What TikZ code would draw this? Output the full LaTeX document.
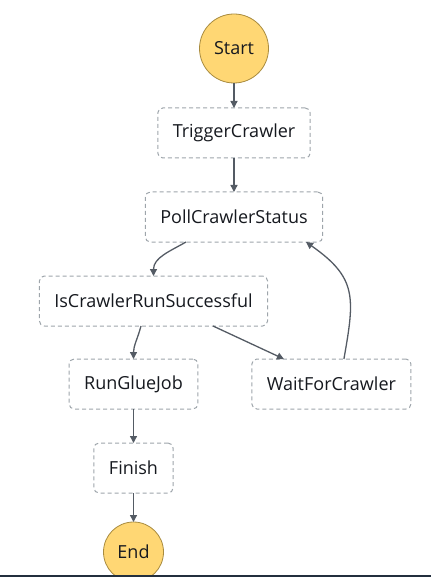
\documentclass[tikz,border=0pt]{standalone}
\usepackage{fontspec}
\setmainfont{Open Sans}
\usepackage{tikz}
\usetikzlibrary{arrows.meta,positioning}

\definecolor{edgegray}{HTML}{545B64}
\definecolor{boxgray}{HTML}{9EA5AB}
\definecolor{termyellow}{HTML}{FFD774}
\definecolor{termborder}{HTML}{A88B3F}
\definecolor{textdark}{HTML}{16191F}
\definecolor{barnavy}{HTML}{232F3E}

\begin{document}
\begin{tikzpicture}[x=1pt,y=1pt,>={Triangle[length=7pt,width=7pt]},
            flow/.style={->,draw=edgegray,line width=1.3pt},
            task node/.style={rectangle,rounded corners=5pt,draw=boxgray,dashed,
            dash pattern=on 4pt off 3pt,line width=1pt,fill=white,text=textdark,
            font=\fontsize{18pt}{21pt}\selectfont,inner xsep=15pt,minimum height=50pt,outer sep=0pt},
            terminal node/.style={circle,draw=termborder,line width=0.8pt,fill=termyellow,
            text=textdark,font=\fontsize{18pt}{21pt}\selectfont,inner sep=0pt,outer sep=0pt}]

    \useasboundingbox (0,0) rectangle (431,-577);

    \node[terminal node,minimum size=69pt] (Start) at (234,-48.5) {Start};
    \node[task node] (TriggerCrawler) [below=25pt of Start] {TriggerCrawler};
    \node[task node] (PollCrawlerStatus) [below=34pt of TriggerCrawler] {PollCrawlerStatus};
    \node[task node] (IsCrawlerRunSuccessful) [below=34pt of PollCrawlerStatus, xshift=-80.5pt] {IsCrawlerRunSuccessful};
    \node[task node] (RunGlueJob) [below=33pt of IsCrawlerRunSuccessful, xshift=-20pt] {RunGlueJob};
    \node[task node] (WaitForCrawler) [right=54pt of RunGlueJob] {WaitForCrawler};
    \node[task node] (Finish) [below=34pt of RunGlueJob] {Finish};
    \node[terminal node,minimum size=60pt] (End) [below=29pt of Finish] {End};

    % frame edge of the console
    \fill[barnavy] (0,-575) rectangle (431,-577);

    \draw [flow] (Start) -- (TriggerCrawler);
    \draw [flow] (TriggerCrawler) -- (PollCrawlerStatus);
    \draw [flow] ([xshift=-48pt]PollCrawlerStatus.south) to[out=-150,in=90] (IsCrawlerRunSuccessful.north);
    \draw [flow] ([xshift=-12.5pt]IsCrawlerRunSuccessful.south) to[out=-105,in=90] (RunGlueJob.north);
    \draw [flow] ([xshift=59.5pt]IsCrawlerRunSuccessful.south) -- ([xshift=-47.5pt]WaitForCrawler.north);
    \draw [flow] ([xshift=12.5pt]WaitForCrawler.north) to[out=80,in=-35,looseness=1.3] ([xshift=72pt]PollCrawlerStatus.south);
    \draw [flow] (RunGlueJob) -- (Finish);
    \draw [flow] (Finish) -- (End);
\end{tikzpicture}
\end{document}
